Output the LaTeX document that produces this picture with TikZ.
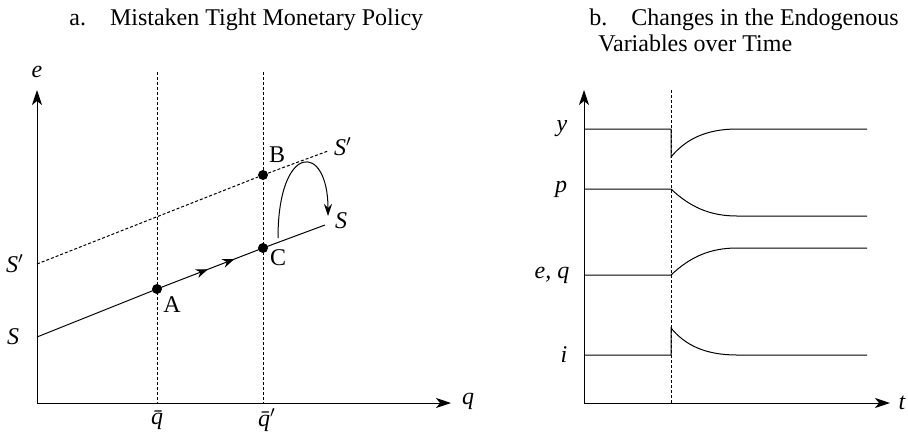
\documentclass[tikz,border=0pt]{standalone}
\usepackage{fontspec}
\setmainfont{Liberation Serif}
\usetikzlibrary{arrows.meta, positioning, decorations.markings}

\begin{document}
\begin{tikzpicture}[
    x=0.5pt, y=-0.5pt,
    every node/.style={font=\fontsize{12}{13}\selectfont, inner sep=1pt},
    axis/.style={draw, line width=0.5pt, {Stealth[length=7.5pt, width=5pt, inset=2pt]}-{Stealth[length=7.5pt, width=5pt, inset=2pt]}},
    curve/.style={draw, line width=0.5pt},
    guide/.style={draw, line width=0.5pt, dash pattern=on 1.5pt off 1pt},
    dot/.style={circle, fill, inner sep=0pt, minimum size=5pt},
    lab/.style={font=\fontsize{12}{13}\selectfont\itshape}
]
\useasboundingbox (0,0) rectangle (908,434);

% panel a
\node [anchor=base west] (titlea) at (67,25) {a.\quad Mistaken Tight Monetary Policy};

\coordinate (Oa) at (37,403);
\coordinate (Ya) at (37,90);
\coordinate (Xa) at (451,403);
\path [axis] (Ya) |- (Xa);
\node [lab] (elab) at (37,72) {e};
\node [lab] (qlab) at (468,401) {q};

\coordinate (qbartop) at (157,72);
\coordinate (qbarbot) at (157,403);
\coordinate (qprtop) at (263,72);
\coordinate (qprbot) at (263,403);
\path [guide] (qbartop) -- (qbarbot);
\path [guide] (qprtop) -- (qprbot);
\node [lab] (qbar) at (157,420) {\=q};
\node [lab] (qpr) at (267,420) {\=q$'$};

% S schedules
\coordinate (S0) at (37,337);
\coordinate (S1) at (325,225);
\coordinate (Sp0) at (37,264);
\coordinate (Sp1) at (328,151);
\node [dot] (A) at (157,289) {};
\node [dot] (B) at (263,175) {};
\node [dot] (C) at (263,248) {};

\path [guide] (Sp0) -- (B) -- (Sp1);
\path [curve] (S0) -- (A.center);
\path [curve, postaction={decorate},
    decoration={markings,
        mark=at position 0.48 with {\arrow{Stealth[length=6pt, width=4.5pt, inset=2pt]}},
        mark=at position 0.73 with {\arrow{Stealth[length=6pt, width=4.5pt, inset=2pt]}}}]
    (A.center) -- (C.center);
\path [curve] (C.center) -- (S1);

\node [lab] (Slab) at (13,337) {S};
\node [lab] (Splab) at (15,264) {S$'$};
\node [lab] (Srlab) at (341,221) {S};
\node [lab] (Sprlab) at (343,147) {S$'$};
\node (Alab) at (172,305) {A};
\node (Blab) at (277,155) {B};
\node (Clab) at (278,258) {C};

% jump and return
\coordinate (jump0) at (278,238);
\coordinate (jump1) at (328,216);
\path [curve, -{Stealth[length=6pt, width=4pt, inset=2pt]}]
    (jump0) .. controls (278,142) and (328,142) .. (jump1);

% panel b
\node [anchor=base west] (titleb) at (587,25) {b.\quad Changes in the Endogenous};
\node [anchor=base west] (titlebb) at (596,51) {Variables over Time};

\coordinate (Ob) at (584,403);
\coordinate (Yb) at (584,90);
\coordinate (Xb) at (890,403);
\path [axis] (Yb) |- (Xb);
\node [lab] (tlab) at (902,403) {t};

\coordinate (shocktop) at (671,90);
\coordinate (shockbot) at (671,403);
\path [guide] (shocktop) -- (shockbot);

% y
\path [curve] (584,129) -- (671,129) -- (671,157)
    .. controls (685,140) and (705,129) .. (737,129) -- (867,129);
% p
\path [curve] (584,189) -- (671,189)
    .. controls (690,207) and (710,216) .. (737,216) -- (867,216);
% e, q
\path [curve] (584,275) -- (671,275)
    .. controls (690,257) and (710,248) .. (737,248) -- (867,248);
% i
\path [curve] (584,355) -- (671,355) -- (671,328)
    .. controls (685,345) and (705,355) .. (737,355) -- (867,355);

\node [lab] (ylab) at (562,129) {y};
\node [lab] (plab) at (561,189) {p};
\node [lab] (eqlab) at (552,275) {e, q};
\node [lab] (ilab) at (564,355) {i};

\end{tikzpicture}
\end{document}
